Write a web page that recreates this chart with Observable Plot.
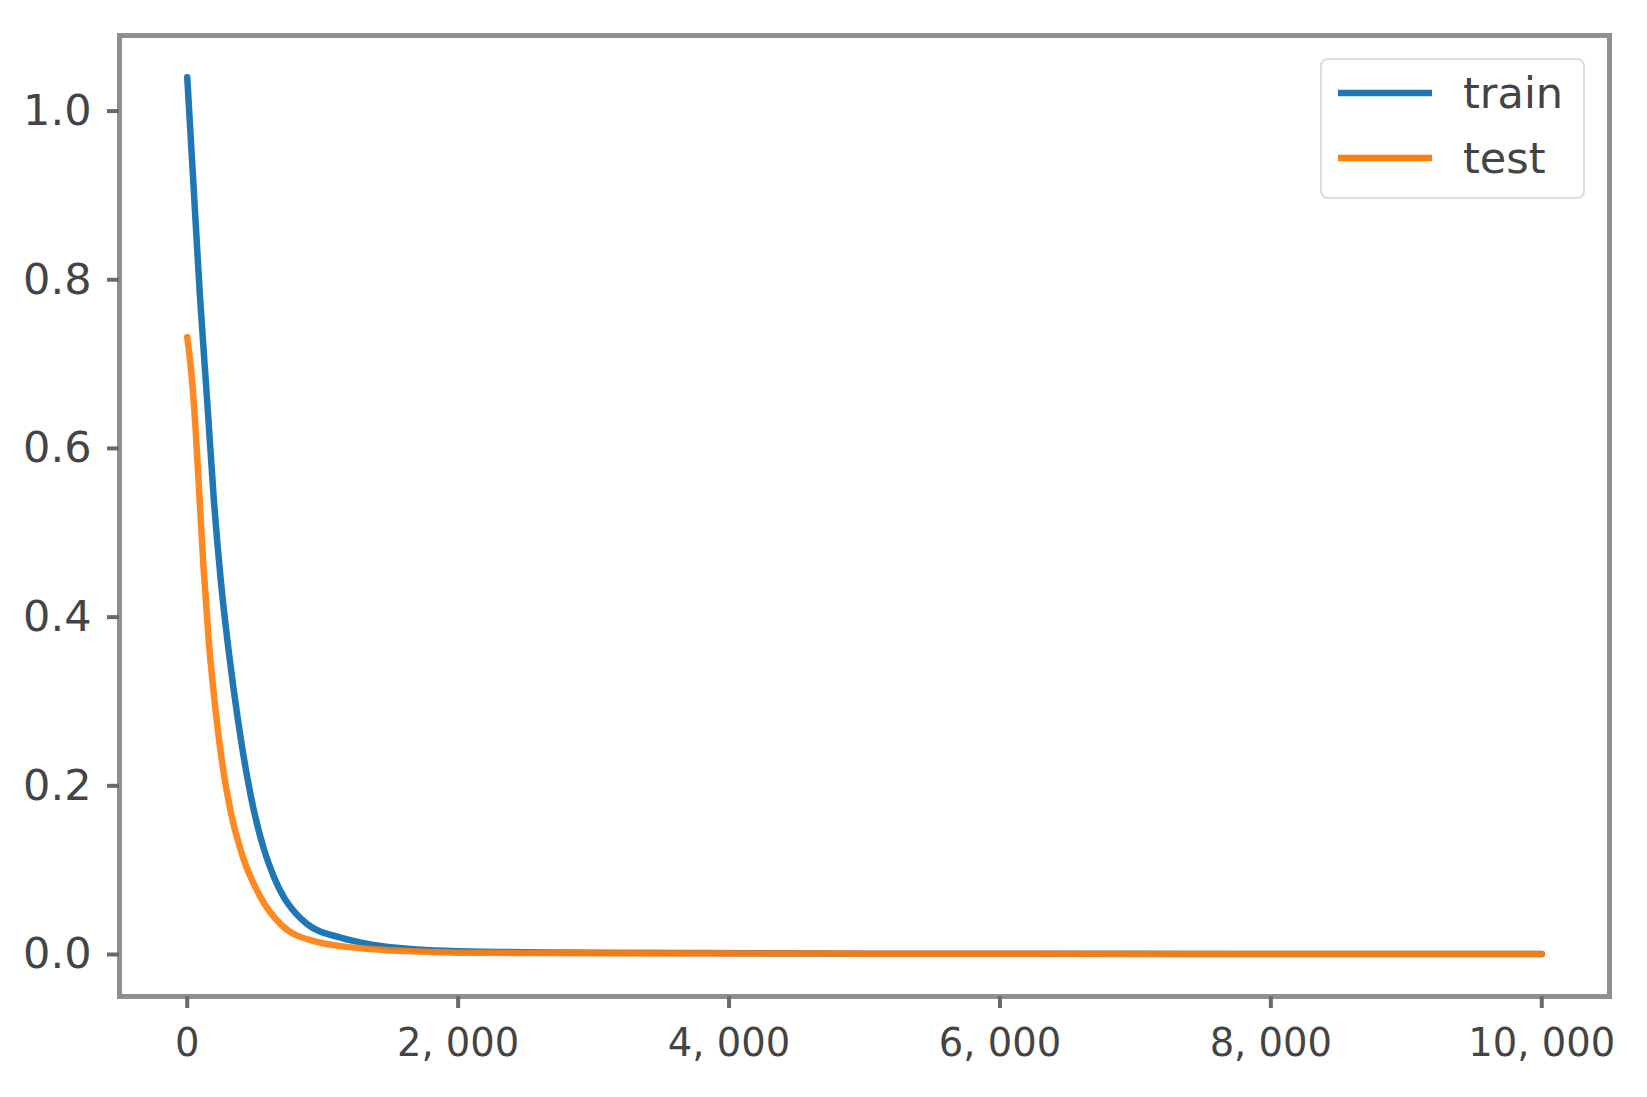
<!DOCTYPE html>
<html>
<head>
<meta charset="utf-8">
<script src="https://cdn.jsdelivr.net/npm/d3@7"></script>
<script src="https://cdn.jsdelivr.net/npm/@observablehq/plot@0.6"></script>
<style>
  html, body { margin: 0; padding: 0; background: #fff; }
  #wrap { position: relative; width: 1647px; height: 1097px; font-family: "DejaVu Sans", sans-serif; }
  #legend { position: absolute; left: 1320px; top: 58px; width: 261px; height: 137px;
            border: 2px solid #dcdcdc; border-radius: 8px; background: #fff; }
  #legend svg { position: absolute; left: 0; top: 0; }
</style>
</head>
<body>
<div id="wrap"></div>
<script>
// ---- data ----
const seriesNames = ["train", "test"];
const seriesColors = ["#1f77b4", "#ff7f0e"];

const trainEpochs = [0, 40, 93, 150, 197, 250, 310, 370, 440, 500, 566, 640, 713, 800, 886, 1132, 1353, 1700, 2000, 3000, 5000, 10000];
const trainLoss   = [1.040, 0.930, 0.783, 0.650, 0.538, 0.440, 0.355, 0.283, 0.213, 0.165, 0.125, 0.092, 0.068, 0.049, 0.036, 0.020, 0.012, 0.006, 0.004, 0.002, 0.001, 0.0005];

const testEpochs = [0, 30, 61, 86, 120, 160, 209, 260, 320, 406, 541, 689, 935, 1353, 1700, 2000, 3000, 5000, 10000];
const testLoss   = [0.732, 0.690, 0.625, 0.555, 0.460, 0.370, 0.290, 0.225, 0.170, 0.118, 0.068, 0.036, 0.016, 0.0065, 0.0035, 0.0022, 0.0015, 0.001, 0.0005];

const xTicks = [0, 2000, 4000, 6000, 8000, 10000];
const yTicks = [0.0, 0.2, 0.4, 0.6, 0.8, 1.0];

// ---- build tables ----
const train = trainEpochs.map((e, i) => ({epoch: e, loss: trainLoss[i], series: "train"}));
const test = testEpochs.map((e, i) => ({epoch: e, loss: testLoss[i], series: "test"}));

const xFmt = d => d === 0 ? "0" : d3.format(",")(d).replace(",", ", ");

const chart = Plot.plot({
  width: 1647,
  height: 1097,
  marginLeft: 119,
  marginRight: 38,
  marginTop: 35,
  marginBottom: 101,
  style: {fontFamily: "DejaVu Sans, sans-serif", background: "#fff", overflow: "visible"},
  x: {domain: [-500, 10500]},
  y: {domain: [-0.0498, 1.0896]},
  marks: [
    Plot.line(train, {x: "epoch", y: "loss", stroke: seriesColors[0], strokeWidth: 6.5, curve: "monotone-x"}),
    Plot.line(test, {x: "epoch", y: "loss", stroke: seriesColors[1], strokeWidth: 6.5, strokeOpacity: 0.92, curve: "monotone-x"}),
    Plot.frame({stroke: "#8f8f8f", strokeWidth: 5}),
    Plot.axisX({ticks: xTicks, tickFormat: xFmt, tickSize: 12, tickPadding: 20, fontSize: 38.5,
                stroke: "#6a6a6a", strokeWidth: 4, fill: "#444", label: null}),
    Plot.axisY({ticks: yTicks, tickFormat: d3.format(".1f"), tickSize: 12, tickPadding: 16, fontSize: 43,
                stroke: "#6a6a6a", strokeWidth: 4, fill: "#444", label: null})
  ]
});

const wrap = document.getElementById("wrap");
wrap.appendChild(chart);

// ---- legend ----
const legend = document.createElement("div");
legend.id = "legend";
wrap.appendChild(legend);
const lsvg = d3.select(legend).append("svg").attr("width", 261).attr("height", 137);
seriesNames.forEach((name, i) => {
  const cy = 33 + i * 65;
  lsvg.append("line").attr("x1", 16).attr("x2", 110).attr("y1", cy).attr("y2", cy)
    .attr("stroke", seriesColors[i]).attr("stroke-width", 6.5);
  lsvg.append("text").attr("x", 141).attr("y", cy).attr("dy", "0.36em")
    .attr("font-size", 43).attr("fill", "#444").attr("font-family", "DejaVu Sans, sans-serif")
    .text(name);
});
</script>
</body>
</html>
